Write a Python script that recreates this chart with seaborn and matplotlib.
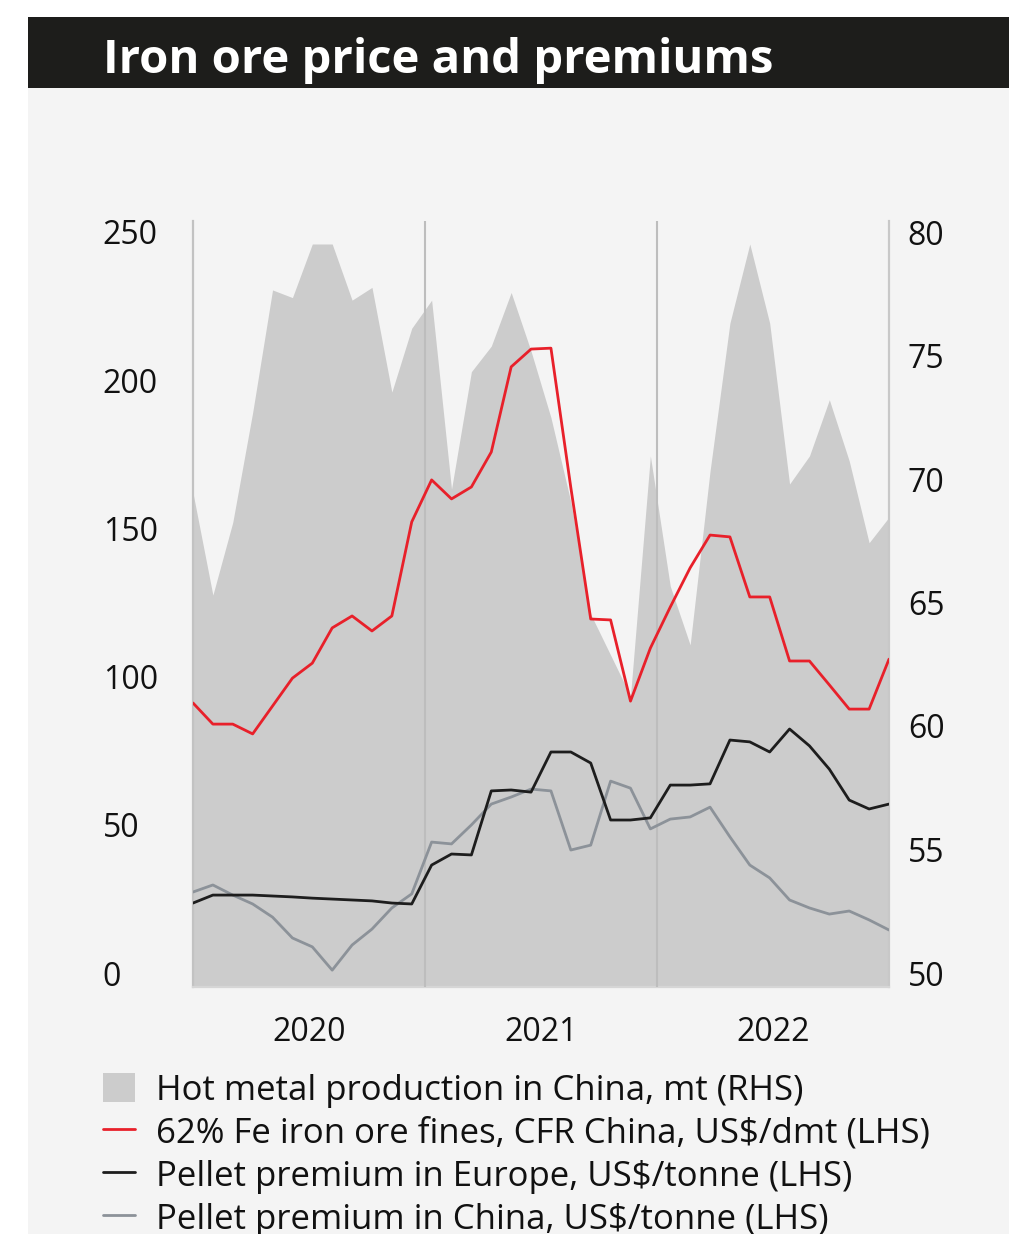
import numpy as np
import pandas as pd
import matplotlib
matplotlib.use("Agg")
import matplotlib.pyplot as plt
import matplotlib.transforms as mtransforms
from matplotlib.patches import Rectangle, Patch
from matplotlib.lines import Line2D
import seaborn as sns

# ---- data (monthly, Jan 2020 - Dec 2022) ----
months = pd.period_range("2020-01", periods=36, freq="M").astype(str)

iron_ore = [92.7, 85.8, 85.8, 82.6, 91.7, 100.8, 105.7, 117.2, 121.1, 116.2, 121.1, 151.8,
            165.5, 159.3, 163.2, 174.6, 202.4, 208.2, 208.5, 163.0, 120.1, 119.8, 93.3, 110.6,
            124.0, 136.8, 147.5, 146.9, 127.3, 127.3, 106.4, 106.4, 98.6, 90.7, 90.7, 107.0]

pellet_europe = [27.4, 30.0, 30.0, 30.0, 29.7, 29.4, 29.0, 28.7, 28.4, 28.1, 27.4, 27.1,
                 39.8, 43.4, 43.1, 64.0, 64.3, 63.6, 76.7, 76.7, 73.1, 54.5, 54.5, 55.2,
                 65.9, 65.9, 66.3, 80.6, 80.0, 76.7, 84.2, 78.7, 71.1, 61.0, 58.1, 59.7]

pellet_china = [31.0, 33.3, 30.0, 27.1, 22.8, 16.0, 13.1, 5.5, 13.7, 18.9, 25.8, 30.4,
                47.3, 46.7, 52.9, 59.7, 62.0, 64.6, 64.0, 44.7, 46.3, 67.2, 64.9, 51.6,
                54.8, 55.5, 58.7, 49.0, 39.8, 35.6, 28.4, 25.8, 23.8, 24.8, 21.9, 18.6]

hot_metal = [69.35, 65.35, 68.2, 72.5, 77.3, 77.0, 79.1, 79.1, 76.9, 77.4, 73.3, 75.8,
             76.9, 69.5, 74.1, 75.1, 77.2, 74.9, 72.3, 69.0, 64.6, 63.0, 61.4, 70.8,
             65.7, 63.4, 70.2, 76.0, 79.1, 76.0, 69.7, 70.8, 73.0, 70.6, 67.4, 68.4]

years = ["2020", "2021", "2022"]
left_ticks = [0, 50, 100, 150, 200, 250]
right_ticks = [50, 55, 60, 65, 70, 75, 80]

lbl_hot = "Hot metal production in China, mt (RHS)"
lbl_ore = "62% Fe iron ore fines, CFR China, US$/dmt (LHS)"
lbl_eu = "Pellet premium in Europe, US$/tonne (LHS)"
lbl_cn = "Pellet premium in China, US$/tonne (LHS)"

colors = {lbl_ore: "#e8202a", lbl_eu: "#1d1d1d", lbl_cn: "#8c9299"}
area_color = "#cccccc"

# ---- style ----
sns.set_style("white")
plt.rcParams["font.family"] = ["Open Sans", "DejaVu Sans"]

W, H = 1009, 1234
fig = plt.figure(figsize=(W / 100, H / 100), dpi=100)
fig.patch.set_facecolor("white")

# light panel + dark title band
fig.patches.append(Rectangle((28 / W, 0), 1 - 28 / W, 1 - 88 / H, transform=fig.transFigure,
                             facecolor="#f4f4f4", edgecolor="none", zorder=-2))
fig.patches.append(Rectangle((28 / W, 1 - 88 / H), 1 - 28 / W, 71 / H, transform=fig.transFigure,
                             facecolor="#1d1d1b", edgecolor="none", zorder=-2))
fig.text(103 / W, 1 - 73 / H, "Iron ore price and premiums", color="white",
         fontsize=34, fontweight="bold", va="baseline")

ax = fig.add_axes([193 / W, 1 - 987 / H, 696 / W, 766 / H])
ax2 = ax.twinx()

x = np.arange(len(months))

# area on the right axis
ax2.fill_between(x, 50, hot_metal, color=area_color, linewidth=0)
ax2.set_ylim(50, 80)
ax2.set_yticks(right_ticks)

# lines on the left axis
df = pd.DataFrame({
    "x": np.tile(x, 3),
    "value": pellet_china + pellet_europe + iron_ore,
    "series": [lbl_cn] * 36 + [lbl_eu] * 36 + [lbl_ore] * 36,
})
ax.set_zorder(ax2.get_zorder() + 1)
ax.patch.set_visible(False)
ax2.set_facecolor("#f4f4f4")

n = len(months) - 1
for b in [n / 3, 2 * n / 3]:
    ax.axvline(b, color="#bdbdbd", lw=1.5, zorder=1)

sns.lineplot(data=df, x="x", y="value", hue="series", hue_order=[lbl_cn, lbl_eu, lbl_ore],
             palette=colors, linewidth=2.0, legend=False, ax=ax, zorder=3)

ax.set_xlim(0, n)
ax.set_ylim(0, 250)
ax.set_yticks(left_ticks)
ax.set_xticks([n / 6, n / 2, 5 * n / 6])
ax.set_xticklabels(years)
ax.set_xlabel("")
ax.set_ylabel("")

for a in (ax, ax2):
    for s in a.spines.values():
        s.set_visible(False)
ax2.spines["left"].set_visible(True)
ax2.spines["left"].set_color("#c2c2c2")
ax2.spines["left"].set_linewidth(1.6)
ax2.spines["right"].set_visible(True)
ax2.spines["right"].set_color("#c8c8c8")
ax2.spines["right"].set_linewidth(1.6)
ax2.spines["bottom"].set_visible(True)
ax2.spines["bottom"].set_color("#d6d6d6")
ax2.spines["bottom"].set_linewidth(1.6)

ax.tick_params(axis="y", length=0, pad=65, labelsize=23, labelcolor="#111111")
ax.tick_params(axis="x", length=0, pad=21, labelsize=23, labelcolor="#111111")
ax2.tick_params(axis="y", length=0, pad=13.5, labelsize=23, labelcolor="#111111")
for lab in ax.get_yticklabels():
    lab.set_horizontalalignment("left")

# labels sit evenly a little inside the axis span
for a, ticks, lo, hi in [(ax, left_ticks, 0, 250), (ax2, right_ticks, 50, 80)]:
    for lab, v in zip(a.get_yticklabels(), ticks):
        frac = (hi - v) / (hi - lo)
        dy = 11 - frac * 25
        off = mtransforms.ScaledTranslation(0, -dy / 100, fig.dpi_scale_trans)
        lab.set_transform(lab.get_transform() + off)

# legend
handles = [Patch(facecolor=area_color, edgecolor="none"),
           Line2D([], [], color=colors[lbl_ore], lw=2),
           Line2D([], [], color=colors[lbl_eu], lw=2),
           Line2D([], [], color=colors[lbl_cn], lw=2)]
fig.legend(handles, [lbl_hot, lbl_ore, lbl_eu, lbl_cn], loc="upper left",
           bbox_to_anchor=(103 / W, 1 - 1073 / H), frameon=False, fontsize=25,
           handlelength=0.93, handleheight=0.93, handletextpad=0.6, labelspacing=0.24,
           borderpad=0, borderaxespad=0, labelcolor="#111111")

fig.savefig("out.png", dpi=100, facecolor=fig.get_facecolor())
